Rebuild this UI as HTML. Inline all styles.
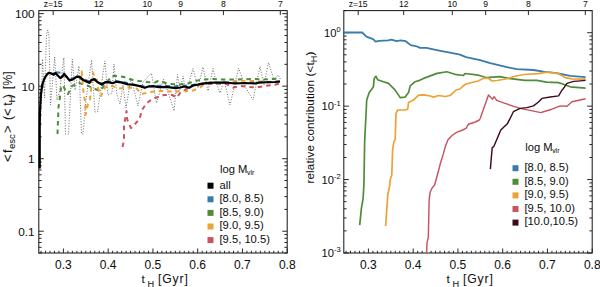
<!DOCTYPE html>
<html><head><meta charset="utf-8"><style>
html,body{margin:0;padding:0;background:#fff;width:600px;height:287px;overflow:hidden}
svg{display:block}
text{font-family:"Liberation Sans", sans-serif;fill:#111;stroke:#111;stroke-width:0.05px}
</style></head><body>
<svg width="600" height="287" viewBox="0 0 600 287">
<rect width="600" height="287" fill="#fff"/>
<rect x="38.8" y="10.6" width="248.40" height="242.40" fill="none" stroke="#1e1e1e" stroke-width="1.05"/>
<path d="M41.04 253v-2.2M45.51 253v-2.2M49.99 253v-2.2M54.47 253v-2.2M58.94 253v-2.2M63.42 253v-4.5M67.89 253v-2.2M72.37 253v-2.2M76.85 253v-2.2M81.32 253v-2.2M85.80 253v-2.2M90.27 253v-2.2M94.75 253v-2.2M99.23 253v-2.2M103.70 253v-2.2M108.18 253v-4.5M112.65 253v-2.2M117.13 253v-2.2M121.61 253v-2.2M126.08 253v-2.2M130.56 253v-2.2M135.03 253v-2.2M139.51 253v-2.2M143.99 253v-2.2M148.46 253v-2.2M152.94 253v-4.5M157.41 253v-2.2M161.89 253v-2.2M166.37 253v-2.2M170.84 253v-2.2M175.32 253v-2.2M179.79 253v-2.2M184.27 253v-2.2M188.75 253v-2.2M193.22 253v-2.2M197.70 253v-4.5M202.17 253v-2.2M206.65 253v-2.2M211.13 253v-2.2M215.60 253v-2.2M220.08 253v-2.2M224.55 253v-2.2M229.03 253v-2.2M233.51 253v-2.2M237.98 253v-2.2M242.46 253v-4.5M246.93 253v-2.2M251.41 253v-2.2M255.89 253v-2.2M260.36 253v-2.2M264.84 253v-2.2M269.31 253v-2.2M273.79 253v-2.2M278.27 253v-2.2M282.74 253v-2.2M287.22 253v-4.5M38.80 253.06h2.8M287.20 253.06h-2.8M38.80 247.32h2.8M287.20 247.32h-2.8M38.80 242.47h2.8M287.20 242.47h-2.8M38.80 238.26h2.8M287.20 238.26h-2.8M38.80 234.55h2.8M287.20 234.55h-2.8M38.80 231.23h5M287.20 231.23h-5M38.80 209.40h2.8M287.20 209.40h-2.8M38.80 196.62h2.8M287.20 196.62h-2.8M38.80 187.56h2.8M287.20 187.56h-2.8M38.80 180.53h2.8M287.20 180.53h-2.8M38.80 174.79h2.8M287.20 174.79h-2.8M38.80 169.94h2.8M287.20 169.94h-2.8M38.80 165.73h2.8M287.20 165.73h-2.8M38.80 162.02h2.8M287.20 162.02h-2.8M38.80 158.70h5M287.20 158.70h-5M38.80 136.87h2.8M287.20 136.87h-2.8M38.80 124.09h2.8M287.20 124.09h-2.8M38.80 115.03h2.8M287.20 115.03h-2.8M38.80 108.00h2.8M287.20 108.00h-2.8M38.80 102.26h2.8M287.20 102.26h-2.8M38.80 97.41h2.8M287.20 97.41h-2.8M38.80 93.20h2.8M287.20 93.20h-2.8M38.80 89.49h2.8M287.20 89.49h-2.8M38.80 86.17h5M287.20 86.17h-5M38.80 64.34h2.8M287.20 64.34h-2.8M38.80 51.56h2.8M287.20 51.56h-2.8M38.80 42.50h2.8M287.20 42.50h-2.8M38.80 35.47h2.8M287.20 35.47h-2.8M38.80 29.73h2.8M287.20 29.73h-2.8M38.80 24.88h2.8M287.20 24.88h-2.8M38.80 20.67h2.8M287.20 20.67h-2.8M38.80 16.96h2.8M287.20 16.96h-2.8M38.80 13.64h5M287.20 13.64h-5" stroke="#1e1e1e" stroke-width="0.95" fill="none"/>
<text x="53.20" y="7" font-size="8.6" text-anchor="middle">z=15</text>
<text x="98.70" y="7" font-size="8.6" text-anchor="middle">12</text>
<text x="147.30" y="7" font-size="8.6" text-anchor="middle">10</text>
<text x="180.70" y="7" font-size="8.6" text-anchor="middle">9</text>
<text x="223.40" y="7" font-size="8.6" text-anchor="middle">8</text>
<text x="280.30" y="7" font-size="8.6" text-anchor="middle">7</text>
<path d="M53.20 10.6v4.5M98.70 10.6v4.5M147.30 10.6v4.5M180.70 10.6v4.5M223.40 10.6v4.5M280.30 10.6v4.5" stroke="#1e1e1e" stroke-width="0.95" fill="none"/>
<text x="63.42" y="268.6" font-size="12" text-anchor="middle">0.3</text>
<text x="108.18" y="268.6" font-size="12" text-anchor="middle">0.4</text>
<text x="152.94" y="268.6" font-size="12" text-anchor="middle">0.5</text>
<text x="197.70" y="268.6" font-size="12" text-anchor="middle">0.6</text>
<text x="242.46" y="268.6" font-size="12" text-anchor="middle">0.7</text>
<text x="287.22" y="268.6" font-size="12" text-anchor="middle">0.8</text>
<text x="141.6" y="282.6" font-size="11.8">t</text>
<text x="147.6" y="286.6" font-size="9.2">H</text>
<text x="158.0" y="282.8" font-size="12.2" letter-spacing="0.85">[Gyr]</text>
<text x="34.6" y="18.24" font-size="11.8" text-anchor="end">100</text>
<text x="34.6" y="90.77" font-size="11.8" text-anchor="end">10</text>
<text x="34.6" y="163.30" font-size="11.8" text-anchor="end">1</text>
<text x="34.6" y="235.83" font-size="11.8" text-anchor="end">0.1</text>
<text transform="translate(11.8,161.8) rotate(-90)" font-size="12.4">&lt;</text>
<text transform="translate(11.8,153.0) rotate(-90)" font-size="12.4">f</text>
<text transform="translate(15.0,149.0) rotate(-90)" font-size="9.5">esc</text>
<text transform="translate(11.8,132.8) rotate(-90)" font-size="12.4">&gt;</text>
<text transform="translate(11.8,120.0) rotate(-90)" font-size="12.4">(</text>
<text transform="translate(11.8,115.8) rotate(-90)" font-size="12.4">&lt;</text>
<text transform="translate(11.8,105.8) rotate(-90)" font-size="12.4">t</text>
<text transform="translate(15.0,102.4) rotate(-90)" font-size="9.5">H</text>
<text transform="translate(11.8,98.2) rotate(-90)" font-size="12.4">)</text>
<text transform="translate(11.8,89.3) rotate(-90)" font-size="12.4">[%]</text>
<polyline points="40.5,120.0 41.5,98.0 42.5,59.0 44.5,98.0 46.5,35.0 47.8,30.0 49.0,36.0 50.5,105.0 54.7,57.0 57.0,100.0 59.5,92.0 63.9,57.6 65.5,134.0 68.5,134.0 72.3,59.2 75.0,90.0 79.0,66.0 81.5,134.0 83.0,134.0 86.0,100.0 91.5,60.0 95.0,112.0 97.5,112.0 104.9,60.9 108.0,95.0 112.0,93.0 114.0,64.0 117.0,95.0 120.0,104.0 123.0,85.0 126.0,108.0 131.0,78.0 138.0,106.0 143.0,82.0 151.4,73.2 156.5,103.0 163.5,79.0 169.0,95.0 174.0,111.0 177.5,74.5 180.0,90.0 183.0,76.0 186.0,93.0 193.0,68.5 198.0,88.0 203.0,67.0 208.0,91.0 213.0,68.5 216.0,82.0 220.0,93.0 224.0,80.0 230.0,105.0 238.5,68.0 246.0,88.0 253.0,100.0 260.0,66.5 264.0,85.0 268.5,62.5 274.0,80.0 278.0,75.0 281.0,80.0" fill="none" stroke="#5a5a5a" stroke-width="0.9" stroke-linejoin="round" stroke-dasharray="1,1.7"/>
<polyline points="57.5,134.0 58.0,120.0 58.5,107.0 60.0,97.0 61.0,88.0 63.0,85.0 66.0,92.0 68.0,94.0 70.0,90.0 72.0,86.0 79.0,83.0 86.0,85.0 93.0,88.0 100.0,91.0 106.0,83.0 112.0,76.0 116.0,76.0 124.0,77.0 131.0,79.5 139.0,81.0 147.0,82.0 155.0,82.5 158.0,81.0 170.0,84.0 178.0,84.5 188.0,83.5 195.0,81.0 200.0,80.0 205.0,79.5 213.0,79.0 222.0,79.5 230.0,79.5 238.0,79.5 255.0,79.0 263.0,79.5 273.0,79.0 280.0,78.5" fill="none" stroke="#4f8c3a" stroke-width="2" stroke-linejoin="round" stroke-dasharray="4.5,4"/>
<polyline points="80.0,80.0 81.7,71.5 82.0,75.0 83.0,88.0 84.5,98.0 85.5,108.0 85.5,115.0 88.0,104.0 90.0,100.0 91.0,90.0 93.0,73.0 95.0,77.0 97.0,80.0 98.0,87.0 100.0,95.0 101.0,96.0 103.0,92.0 105.0,87.5 109.0,85.6 114.0,86.6 119.0,88.5 127.0,87.5 136.0,88.0 142.0,94.0 150.0,92.0 158.0,91.0 165.0,91.0 172.0,91.5 175.0,92.5 181.0,90.0 189.0,91.2 193.0,90.5 197.0,89.0 200.0,87.5 204.0,84.5 210.0,84.0 215.0,83.5 225.0,83.0 238.0,80.5 248.0,81.0 255.0,81.0 265.0,82.0 280.0,81.5" fill="none" stroke="#eba335" stroke-width="2" stroke-linejoin="round" stroke-dasharray="4.5,4"/>
<polyline points="122.5,147.0 124.0,140.0 124.0,126.0 126.5,111.0 127.0,118.0 128.0,122.0 131.0,128.0 135.0,124.0 139.5,119.0 142.0,110.0 146.0,104.0 152.0,99.0 158.0,97.0 164.0,95.0 172.0,95.0 177.0,97.5 180.0,93.0 185.0,90.0 190.0,86.0 197.0,84.5 215.0,83.5 226.0,83.8 233.0,87.5 240.0,86.0 250.0,87.0 257.0,87.5 265.0,86.0 273.0,85.0 280.0,83.5" fill="none" stroke="#c9545e" stroke-width="2" stroke-linejoin="round" stroke-dasharray="4.5,4"/>
<polyline points="56.0,72.2 63.0,73.2 70.0,80.0 76.5,75.8 80.0,77.0 90.0,82.0 95.0,79.0 101.0,84.0 105.0,81.3 109.0,81.8 116.0,81.0 125.0,82.5 135.0,85.0 145.0,86.5 160.0,85.8 175.0,86.2 190.0,85.5 205.0,83.0 225.0,82.5 245.0,83.0 260.0,82.5 280.0,81.5" fill="none" stroke="#3a7bad" stroke-width="2" stroke-linejoin="round" stroke-dasharray="4.5,4"/>
<polyline points="39.7,168.5 39.7,130.0 39.9,112.0 40.9,95.0 42.2,85.0 44.0,79.5 45.9,76.0 47.5,73.8 49.3,72.7 54.0,74.6 55.4,73.0 60.2,78.0 62.4,76.6 64.1,73.8 66.3,76.6 69.7,80.5 73.3,79.2 76.7,76.7 79.5,77.0 83.4,80.0 86.2,81.4 89.5,82.8 91.2,80.0 94.0,79.2 97.3,82.0 101.9,84.6 105.3,82.1 109.2,82.4 112.5,83.2 116.4,81.8 121.4,82.4 128.0,84.4 133.0,84.7 139.9,86.1 144.8,87.8 148.3,86.5 153.2,86.1 158.8,87.1 166.0,86.8 175.8,88.2 180.0,87.5 184.8,86.5 189.0,87.8 193.2,85.4 198.0,84.7 203.0,83.7 206.0,83.2 215.0,82.5 225.0,82.5 235.0,83.5 245.0,83.0 255.0,83.5 260.0,82.5 275.0,82.0 280.0,81.5" fill="none" stroke="#000" stroke-width="2.25" stroke-linejoin="round"/>
<text x="220" y="172.8" font-size="11.2">log M<tspan font-size="6.9" dy="2.3" dx="-0.4">vir</tspan></text>
<rect x="207.5" y="182.7" width="6" height="6" fill="#000"/>
<text x="219.5" y="188.5" font-size="11.2">all</text>
<rect x="207.5" y="196.3" width="6" height="6" fill="#3a7bad"/>
<text x="219.5" y="202.1" font-size="11.2">[8.0, 8.5)</text>
<rect x="207.5" y="209.9" width="6" height="6" fill="#4f8c3a"/>
<text x="219.5" y="215.7" font-size="11.2">[8.5, 9.0)</text>
<rect x="207.5" y="223.5" width="6" height="6" fill="#eba335"/>
<text x="219.5" y="229.3" font-size="11.2">[9.0, 9.5)</text>
<rect x="207.5" y="237.1" width="6" height="6" fill="#c9545e"/>
<text x="219.5" y="242.9" font-size="11.2">[9.5, 10.5)</text>
<rect x="343.8" y="10.6" width="248.40" height="242.40" fill="none" stroke="#1e1e1e" stroke-width="1.05"/>
<path d="M346.04 253v-2.2M350.51 253v-2.2M354.99 253v-2.2M359.47 253v-2.2M363.94 253v-2.2M368.42 253v-4.5M372.89 253v-2.2M377.37 253v-2.2M381.85 253v-2.2M386.32 253v-2.2M390.80 253v-2.2M395.27 253v-2.2M399.75 253v-2.2M404.23 253v-2.2M408.70 253v-2.2M413.18 253v-4.5M417.65 253v-2.2M422.13 253v-2.2M426.61 253v-2.2M431.08 253v-2.2M435.56 253v-2.2M440.03 253v-2.2M444.51 253v-2.2M448.99 253v-2.2M453.46 253v-2.2M457.94 253v-4.5M462.41 253v-2.2M466.89 253v-2.2M471.37 253v-2.2M475.84 253v-2.2M480.32 253v-2.2M484.79 253v-2.2M489.27 253v-2.2M493.75 253v-2.2M498.22 253v-2.2M502.70 253v-4.5M507.17 253v-2.2M511.65 253v-2.2M516.13 253v-2.2M520.60 253v-2.2M525.08 253v-2.2M529.55 253v-2.2M534.03 253v-2.2M538.51 253v-2.2M542.98 253v-2.2M547.46 253v-4.5M551.93 253v-2.2M556.41 253v-2.2M560.89 253v-2.2M565.36 253v-2.2M569.84 253v-2.2M574.31 253v-2.2M578.79 253v-2.2M583.27 253v-2.2M587.74 253v-2.2M592.22 253v-4.5M343.80 252.99h5M592.20 252.99h-5M343.80 230.89h2.8M592.20 230.89h-2.8M343.80 217.95h2.8M592.20 217.95h-2.8M343.80 208.78h2.8M592.20 208.78h-2.8M343.80 201.66h2.8M592.20 201.66h-2.8M343.80 195.85h2.8M592.20 195.85h-2.8M343.80 190.93h2.8M592.20 190.93h-2.8M343.80 186.68h2.8M592.20 186.68h-2.8M343.80 182.92h2.8M592.20 182.92h-2.8M343.80 179.56h5M592.20 179.56h-5M343.80 157.46h2.8M592.20 157.46h-2.8M343.80 144.52h2.8M592.20 144.52h-2.8M343.80 135.35h2.8M592.20 135.35h-2.8M343.80 128.23h2.8M592.20 128.23h-2.8M343.80 122.42h2.8M592.20 122.42h-2.8M343.80 117.50h2.8M592.20 117.50h-2.8M343.80 113.25h2.8M592.20 113.25h-2.8M343.80 109.49h2.8M592.20 109.49h-2.8M343.80 106.13h5M592.20 106.13h-5M343.80 84.03h2.8M592.20 84.03h-2.8M343.80 71.09h2.8M592.20 71.09h-2.8M343.80 61.92h2.8M592.20 61.92h-2.8M343.80 54.80h2.8M592.20 54.80h-2.8M343.80 48.99h2.8M592.20 48.99h-2.8M343.80 44.07h2.8M592.20 44.07h-2.8M343.80 39.82h2.8M592.20 39.82h-2.8M343.80 36.06h2.8M592.20 36.06h-2.8M343.80 32.70h5M592.20 32.70h-5M343.80 10.60h2.8M592.20 10.60h-2.8" stroke="#1e1e1e" stroke-width="0.95" fill="none"/>
<text x="358.20" y="7" font-size="8.6" text-anchor="middle">z=15</text>
<text x="403.70" y="7" font-size="8.6" text-anchor="middle">12</text>
<text x="452.30" y="7" font-size="8.6" text-anchor="middle">10</text>
<text x="485.70" y="7" font-size="8.6" text-anchor="middle">9</text>
<text x="528.40" y="7" font-size="8.6" text-anchor="middle">8</text>
<text x="585.30" y="7" font-size="8.6" text-anchor="middle">7</text>
<path d="M358.20 10.6v4.5M403.70 10.6v4.5M452.30 10.6v4.5M485.70 10.6v4.5M528.40 10.6v4.5M585.30 10.6v4.5" stroke="#1e1e1e" stroke-width="0.95" fill="none"/>
<text x="368.42" y="268.6" font-size="12" text-anchor="middle">0.3</text>
<text x="413.18" y="268.6" font-size="12" text-anchor="middle">0.4</text>
<text x="457.94" y="268.6" font-size="12" text-anchor="middle">0.5</text>
<text x="502.70" y="268.6" font-size="12" text-anchor="middle">0.6</text>
<text x="547.46" y="268.6" font-size="12" text-anchor="middle">0.7</text>
<text x="592.22" y="268.6" font-size="12" text-anchor="middle">0.8</text>
<text x="446.6" y="282.6" font-size="11.8">t</text>
<text x="452.6" y="286.6" font-size="9.2">H</text>
<text x="463.0" y="282.8" font-size="12.2" letter-spacing="0.85">[Gyr]</text>
<text x="340.6" y="36.70" font-size="11.2" text-anchor="end">10<tspan font-size="7.5" dy="-4.5">0</tspan></text>
<text x="340.6" y="110.13" font-size="11.2" text-anchor="end">10<tspan font-size="7.5" dy="-4.5">-1</tspan></text>
<text x="340.6" y="183.56" font-size="11.2" text-anchor="end">10<tspan font-size="7.5" dy="-4.5">-2</tspan></text>
<text x="340.6" y="256.99" font-size="11.2" text-anchor="end">10<tspan font-size="7.5" dy="-4.5">-3</tspan></text>
<text transform="translate(313.8,183.5) rotate(-90)" font-size="11.6" letter-spacing="0.15">relative contribution (&lt;t<tspan font-size="9" dy="3.2">H</tspan><tspan dy="-3.2">)</tspan></text>
<polyline points="344.0,32.5 362.2,32.5 366.4,36.7 373.1,39.2 375.6,41.7 379.0,40.9 388.2,40.4 391.5,39.6 396.5,41.2 400.7,40.4 405.7,41.2 410.7,45.1 416.6,46.3 420.0,47.9 426.6,47.9 433.3,49.3 443.0,51.3 450.0,52.6 460.0,54.7 466.0,57.1 480.1,60.1 490.2,63.1 506.9,67.1 516.7,69.2 533.4,70.0 543.5,71.7 556.9,73.1 570.2,75.9 585.6,77.1" fill="none" stroke="#3a7bad" stroke-width="1.8" stroke-linejoin="round"/>
<polyline points="359.7,225.1 361.4,208.4 363.1,198.4 363.9,185.0 364.7,140.0 365.9,116.7 366.7,100.1 369.2,92.6 371.7,89.3 373.4,86.8 374.2,78.4 375.9,76.2 377.6,79.7 383.4,81.7 388.5,83.4 395.2,90.1 400.2,97.6 405.2,97.1 408.5,92.6 410.2,85.9 415.2,81.7 420.2,80.1 423.6,78.4 430.3,75.9 437.0,73.4 445.3,72.0 446.7,71.8 455.0,74.3 463.4,75.5 465.0,73.5 478.5,75.2 486.8,77.7 500.0,76.7 508.4,78.4 525.0,80.4 536.8,80.4 546.8,82.1 558.5,82.6 563.5,84.3 570.2,86.8 585.6,88.1" fill="none" stroke="#4f8c3a" stroke-width="1.7" stroke-linejoin="round"/>
<polyline points="385.6,226.0 387.8,195.0 389.8,185.0 390.1,180.0 391.8,175.0 392.6,150.0 393.8,141.8 395.2,139.3 396.0,113.4 397.7,110.0 405.2,110.0 407.7,109.2 408.5,102.5 413.5,100.1 418.6,95.1 423.6,94.8 430.3,96.0 433.6,97.1 438.6,95.5 445.3,96.5 450.0,95.5 453.0,93.0 456.0,90.0 460.0,89.0 463.0,86.0 466.0,84.0 472.0,82.5 478.0,81.0 483.0,78.5 488.0,78.0 492.0,81.0 497.0,80.5 503.0,79.5 508.0,78.5 516.0,76.0 524.0,74.5 538.5,73.7 546.8,72.1 558.5,73.7 565.2,77.6 571.9,78.9 585.6,79.2" fill="none" stroke="#eba335" stroke-width="1.7" stroke-linejoin="round"/>
<polyline points="426.6,253.0 427.0,242.6 428.3,237.5 428.6,225.0 429.1,200.4 430.1,192.3 432.1,188.0 434.6,185.0 436.5,178.0 438.3,171.5 440.5,163.0 443.2,154.4 445.5,146.0 448.0,139.8 452.0,135.5 456.6,132.4 462.7,130.0 466.0,128.4 468.5,124.2 475.2,122.0 479.3,120.0 480.2,118.5 488.5,95.0 492.5,99.2 494.2,96.7 496.7,100.4 505.0,103.4 520.1,108.4 541.0,112.6 543.5,111.7 551.9,109.2 560.3,105.9 567.0,106.2 572.0,101.7 580.0,100.0 585.6,98.8" fill="none" stroke="#c9545e" stroke-width="1.45" stroke-linejoin="round"/>
<polyline points="490.4,169.1 491.2,159.0 492.2,147.7 493.7,146.7 500.8,130.0 507.6,123.4 513.4,111.7 520.1,108.4 526.8,107.6 533.5,105.9 538.5,102.0 541.9,98.4 550.2,97.0 558.6,95.9 562.0,90.0 563.5,88.4 566.9,83.4 573.6,81.4 580.3,80.9 585.6,80.4" fill="none" stroke="#3d0c1c" stroke-width="1.45" stroke-linejoin="round"/>
<text x="525.2" y="150.9" font-size="11.2">log M<tspan font-size="6.9" dy="2.3" dx="-0.4">vir</tspan></text>
<rect x="512.5" y="165.2" width="6" height="6" fill="#3a7bad"/>
<text x="524.5" y="171.0" font-size="11.2">[8.0, 8.5)</text>
<rect x="512.5" y="178.8" width="6" height="6" fill="#4f8c3a"/>
<text x="524.5" y="184.6" font-size="11.2">[8.5, 9.0)</text>
<rect x="512.5" y="192.4" width="6" height="6" fill="#eba335"/>
<text x="524.5" y="198.2" font-size="11.2">[9.0, 9.5)</text>
<rect x="512.5" y="206.0" width="6" height="6" fill="#c9545e"/>
<text x="524.5" y="211.8" font-size="11.2">[9.5, 10.0)</text>
<rect x="512.5" y="219.6" width="6" height="6" fill="#3d0c1c"/>
<text x="524.5" y="225.4" font-size="11.2">[10.0,10.5)</text>
</svg></body></html>
